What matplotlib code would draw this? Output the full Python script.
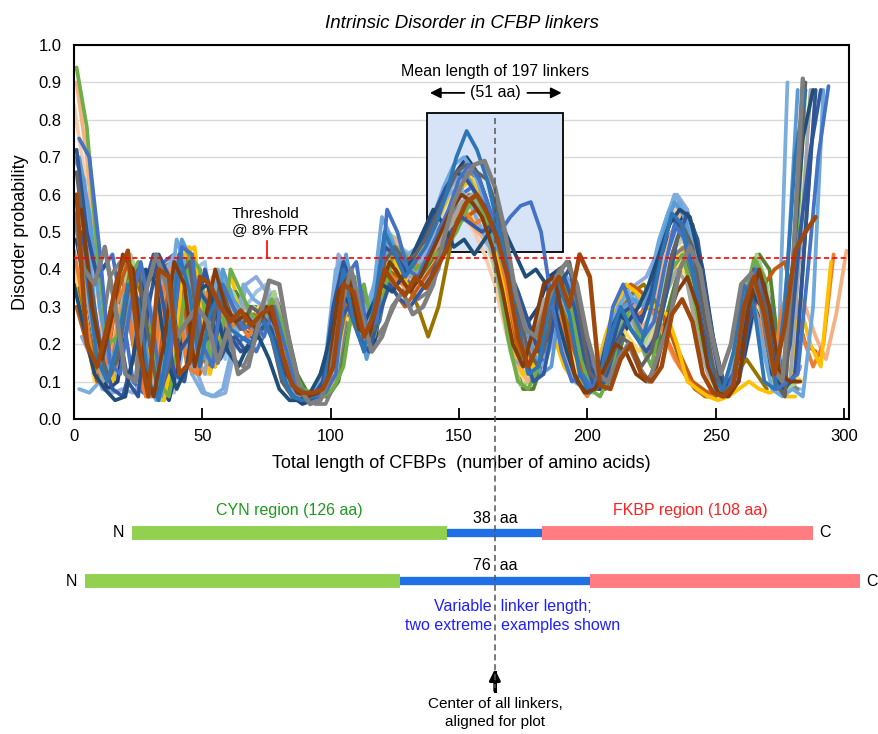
import matplotlib
matplotlib.use("Agg")
import matplotlib.pyplot as plt
import numpy as np
from matplotlib.lines import Line2D
from matplotlib.patches import Rectangle
from matplotlib.transforms import blended_transform_factory

plt.rcParams["font.family"] = ["Liberation Sans", "DejaVu Sans"]

# disorder profiles, sampled every STEP residues starting at each curve's start
STEP = 4
c01 = [0.52, 0.38, 0.16, 0.10, 0.20, 0.36, 0.32, 0.10, 0.05, 0.22,
       0.44, 0.34, 0.14, 0.28, 0.34, 0.24, 0.22, 0.20, 0.27, 0.22,
       0.12, 0.06, 0.05, 0.06, 0.08, 0.22, 0.40, 0.26, 0.18, 0.30,
       0.50, 0.44, 0.38, 0.42, 0.46, 0.52, 0.60, 0.70, 0.77, 0.72,
       0.64, 0.52, 0.40, 0.24, 0.12, 0.14, 0.30, 0.36, 0.28, 0.12,
       0.07, 0.10, 0.22, 0.30, 0.24, 0.20, 0.30, 0.44, 0.55, 0.52,
       0.40, 0.22, 0.10, 0.08, 0.18, 0.36, 0.30, 0.10, 0.08, 0.30,
       0.70, 0.88]
c02 = [0.75, 0.70, 0.45, 0.15, 0.12, 0.30, 0.42, 0.28, 0.08, 0.20,
       0.46, 0.44, 0.20, 0.14, 0.36, 0.30, 0.24, 0.26, 0.22, 0.30,
       0.20, 0.10, 0.07, 0.06, 0.07, 0.12, 0.38, 0.42, 0.24, 0.26,
       0.56, 0.50, 0.40, 0.38, 0.44, 0.50, 0.56, 0.64, 0.68, 0.64,
       0.56, 0.50, 0.54, 0.57, 0.58, 0.50, 0.32, 0.18, 0.10, 0.12,
       0.08, 0.14, 0.30, 0.36, 0.28, 0.22, 0.26, 0.40, 0.52, 0.48,
       0.36, 0.18, 0.08, 0.06, 0.14, 0.34, 0.40, 0.20, 0.08, 0.10,
       0.12, 0.40, 0.70, 0.89]
c03 = [0.94, 0.78, 0.45, 0.20, 0.22, 0.36, 0.42, 0.30, 0.10, 0.06,
       0.22, 0.44, 0.40, 0.16, 0.20, 0.40, 0.34, 0.28, 0.26, 0.32,
       0.26, 0.14, 0.08, 0.07, 0.06, 0.08, 0.14, 0.32, 0.36, 0.22,
       0.34, 0.46, 0.44, 0.40, 0.42, 0.44, 0.46, 0.50, 0.56, 0.60,
       0.52, 0.40, 0.22, 0.10, 0.08, 0.14, 0.30, 0.40, 0.32, 0.18,
       0.08, 0.06, 0.12, 0.24, 0.30, 0.20, 0.14, 0.28, 0.40, 0.44,
       0.34, 0.20, 0.10, 0.06, 0.12, 0.30, 0.43, 0.38, 0.14, 0.08,
       0.40, 0.88]
c04 = [0.90, 0.70, 0.35, 0.12, 0.18, 0.32, 0.30, 0.10, 0.06, 0.24,
       0.42, 0.40, 0.18, 0.14, 0.34, 0.30, 0.24, 0.26, 0.22, 0.28,
       0.22, 0.10, 0.06, 0.05, 0.06, 0.10, 0.26, 0.36, 0.24, 0.30,
       0.44, 0.48, 0.42, 0.40, 0.44, 0.46, 0.48, 0.52, 0.54, 0.50,
       0.48, 0.40, 0.28, 0.14, 0.10, 0.16, 0.30, 0.34, 0.26, 0.14,
       0.08, 0.10, 0.16, 0.26, 0.30, 0.24, 0.28, 0.40, 0.50, 0.56,
       0.46, 0.30, 0.14, 0.08, 0.10, 0.24, 0.36, 0.30, 0.12, 0.10,
       0.32, 0.30, 0.22, 0.16, 0.28, 0.45]
c05 = [0.55, 0.40, 0.36, 0.46, 0.30, 0.12, 0.10, 0.34, 0.44, 0.36,
       0.22, 0.26, 0.30, 0.26, 0.15, 0.24, 0.12, 0.14, 0.26, 0.37,
       0.36, 0.20, 0.08, 0.04, 0.05, 0.12, 0.30, 0.40, 0.28, 0.18,
       0.22, 0.30, 0.34, 0.28, 0.30, 0.36, 0.48, 0.58, 0.64, 0.68,
       0.69, 0.62, 0.50, 0.34, 0.24, 0.22, 0.30, 0.38, 0.42, 0.36,
       0.22, 0.12, 0.10, 0.16, 0.20, 0.14, 0.10, 0.18, 0.26, 0.40,
       0.46, 0.40, 0.24, 0.12, 0.20, 0.36, 0.39, 0.30, 0.14, 0.10,
       0.40, 0.91]
c06 = [0.48, 0.30, 0.12, 0.10, 0.26, 0.40, 0.34, 0.10, 0.05, 0.18,
       0.44, 0.46, 0.20, 0.14, 0.30, 0.32, 0.26, 0.24, 0.28, 0.30,
       0.16, 0.08, 0.06, 0.06, 0.10, 0.24, 0.40, 0.30, 0.20, 0.28,
       0.44, 0.40, 0.34, 0.40, 0.44, 0.50, 0.58, 0.62, 0.64, 0.58,
       0.48, 0.36, 0.20, 0.12, 0.14, 0.26, 0.22, 0.14, 0.10, 0.10,
       0.12, 0.22, 0.30, 0.36, 0.34, 0.30, 0.30, 0.28, 0.20, 0.10,
       0.08, 0.06, 0.05, 0.06, 0.08, 0.10, 0.08, 0.07, 0.08, 0.10,
       0.30, 0.20, 0.14, 0.42]
c07 = [0.60, 0.20, 0.14, 0.25, 0.38, 0.45, 0.20, 0.06, 0.40, 0.38,
       0.12, 0.15, 0.38, 0.36, 0.30, 0.26, 0.29, 0.25, 0.28, 0.30,
       0.18, 0.09, 0.07, 0.07, 0.08, 0.14, 0.36, 0.34, 0.22, 0.28,
       0.40, 0.36, 0.33, 0.38, 0.35, 0.40, 0.45, 0.52, 0.58, 0.60,
       0.55, 0.48, 0.38, 0.22, 0.14, 0.20, 0.34, 0.38, 0.30, 0.44,
       0.38, 0.09, 0.08, 0.16, 0.20, 0.12, 0.10, 0.14, 0.28, 0.32,
       0.26, 0.12, 0.07, 0.06, 0.09, 0.30, 0.38, 0.28, 0.12, 0.25,
       0.45, 0.50, 0.54]
c08 = [0.70, 0.55, 0.30, 0.14, 0.20, 0.34, 0.30, 0.08, 0.06, 0.30,
       0.48, 0.42, 0.16, 0.18, 0.40, 0.32, 0.28, 0.24, 0.30, 0.24,
       0.12, 0.06, 0.05, 0.05, 0.08, 0.30, 0.44, 0.30, 0.16, 0.26,
       0.50, 0.44, 0.40, 0.46, 0.48, 0.54, 0.62, 0.66, 0.64, 0.58,
       0.50, 0.44, 0.36, 0.30, 0.20, 0.12, 0.14, 0.34, 0.36, 0.20,
       0.08, 0.12, 0.24, 0.30, 0.32, 0.30, 0.38, 0.50, 0.58, 0.54,
       0.40, 0.22, 0.10, 0.08, 0.14, 0.34, 0.42, 0.28, 0.10, 0.40,
       0.88]
c09 = [0.08, 0.07, 0.10, 0.24, 0.34, 0.28, 0.10, 0.06, 0.14, 0.32,
       0.30, 0.12, 0.07, 0.06, 0.08, 0.20, 0.36, 0.32, 0.30, 0.26,
       0.14, 0.08, 0.06, 0.08, 0.16, 0.40, 0.42, 0.32, 0.30, 0.38,
       0.42, 0.46, 0.44, 0.46, 0.50, 0.56, 0.60, 0.62, 0.58, 0.52,
       0.46, 0.40, 0.30, 0.16, 0.12, 0.18, 0.30, 0.32, 0.22, 0.12,
       0.08, 0.10, 0.18, 0.28, 0.34, 0.30, 0.40, 0.52, 0.60, 0.56,
       0.42, 0.24, 0.10, 0.08, 0.14, 0.30, 0.36, 0.22, 0.08, 0.90]
c10 = [0.40, 0.25, 0.10, 0.12, 0.30, 0.38, 0.22, 0.07, 0.12, 0.38,
       0.40, 0.18, 0.12, 0.30, 0.34, 0.28, 0.30, 0.26, 0.30, 0.32,
       0.18, 0.08, 0.06, 0.07, 0.10, 0.28, 0.36, 0.28, 0.26, 0.40,
       0.48, 0.42, 0.38, 0.40, 0.44, 0.48, 0.52, 0.58, 0.60, 0.56,
       0.46, 0.30, 0.16, 0.14, 0.24, 0.32, 0.30, 0.18, 0.10, 0.08,
       0.10, 0.20, 0.28, 0.30, 0.24, 0.16, 0.22, 0.34, 0.40, 0.36,
       0.22, 0.12, 0.08, 0.10, 0.24, 0.38, 0.32, 0.14, 0.08, 0.10,
       0.46, 0.88]
c11 = [0.45, 0.30, 0.12, 0.14, 0.30, 0.36, 0.16, 0.06, 0.20, 0.40,
       0.36, 0.14, 0.12, 0.34, 0.32, 0.24, 0.26, 0.22, 0.28, 0.24,
       0.14, 0.07, 0.05, 0.06, 0.08, 0.18, 0.34, 0.30, 0.20, 0.28,
       0.42, 0.38, 0.36, 0.42, 0.40, 0.44, 0.50, 0.54, 0.56, 0.52,
       0.54, 0.50, 0.36, 0.24, 0.16, 0.22, 0.32, 0.30, 0.20, 0.10,
       0.06, 0.12, 0.24, 0.26, 0.30, 0.28, 0.30, 0.26, 0.20, 0.14,
       0.10, 0.07, 0.06, 0.08, 0.14, 0.28, 0.32, 0.24, 0.12, 0.30,
       0.36, 0.22, 0.14, 0.20, 0.44]
c12 = [0.58, 0.40, 0.20, 0.12, 0.28, 0.44, 0.36, 0.10, 0.05, 0.16,
       0.40, 0.44, 0.22, 0.16, 0.36, 0.34, 0.28, 0.30, 0.28, 0.34,
       0.22, 0.10, 0.06, 0.06, 0.07, 0.12, 0.30, 0.38, 0.26, 0.32,
       0.50, 0.48, 0.42, 0.44, 0.46, 0.50, 0.52, 0.55, 0.54, 0.50,
       0.46, 0.34, 0.18, 0.09, 0.10, 0.22, 0.34, 0.36, 0.24, 0.12,
       0.07, 0.10, 0.20, 0.28, 0.26, 0.20, 0.26, 0.36, 0.46, 0.50,
       0.40, 0.22, 0.10, 0.07, 0.12, 0.30, 0.44, 0.36, 0.12, 0.08,
       0.10]
c13 = [0.66, 0.44, 0.24, 0.10, 0.16, 0.34, 0.40, 0.22, 0.06, 0.14,
       0.38, 0.42, 0.20, 0.22, 0.36, 0.28, 0.24, 0.30, 0.28, 0.22,
       0.10, 0.06, 0.05, 0.06, 0.07, 0.14, 0.34, 0.38, 0.22, 0.24,
       0.42, 0.46, 0.42, 0.44, 0.48, 0.54, 0.60, 0.66, 0.68, 0.66,
       0.64, 0.56, 0.44, 0.30, 0.18, 0.14, 0.24, 0.40, 0.42, 0.28,
       0.12, 0.10, 0.16, 0.22, 0.20, 0.14, 0.18, 0.30, 0.44, 0.52,
       0.46, 0.30, 0.14, 0.07, 0.10, 0.28, 0.40, 0.34, 0.10, 0.06,
       0.50, 0.90]
c14 = [0.50, 0.34, 0.16, 0.08, 0.06, 0.16, 0.34, 0.44, 0.30, 0.12,
       0.10, 0.26, 0.40, 0.30, 0.20, 0.22, 0.18, 0.22, 0.26, 0.20,
       0.08, 0.05, 0.05, 0.06, 0.12, 0.26, 0.30, 0.22, 0.18, 0.28,
       0.36, 0.32, 0.30, 0.34, 0.38, 0.44, 0.50, 0.54, 0.52, 0.50,
       0.52, 0.46, 0.32, 0.18, 0.10, 0.12, 0.26, 0.38, 0.30, 0.16,
       0.08, 0.10, 0.20, 0.26, 0.22, 0.18, 0.22, 0.34, 0.48, 0.55,
       0.48, 0.30, 0.14, 0.07, 0.10, 0.26, 0.36, 0.22, 0.08, 0.20,
       0.50, 0.72, 0.88]
c15 = [0.35, 0.22, 0.10, 0.12, 0.26, 0.40, 0.34, 0.10, 0.06, 0.22,
       0.44, 0.40, 0.16, 0.14, 0.32, 0.30, 0.26, 0.28, 0.24, 0.28,
       0.18, 0.08, 0.06, 0.06, 0.08, 0.16, 0.30, 0.34, 0.26, 0.30,
       0.40, 0.38, 0.36, 0.30, 0.22, 0.30, 0.44, 0.56, 0.60, 0.58,
       0.50, 0.38, 0.24, 0.16, 0.20, 0.28, 0.34, 0.30, 0.22, 0.12,
       0.08, 0.12, 0.22, 0.30, 0.34, 0.36, 0.32, 0.28, 0.20, 0.12,
       0.08, 0.06, 0.06, 0.08, 0.12, 0.16, 0.12, 0.08]
c16 = [0.30, 0.20, 0.10, 0.16, 0.34, 0.42, 0.24, 0.08, 0.14, 0.36,
       0.42, 0.20, 0.12, 0.30, 0.36, 0.28, 0.26, 0.24, 0.30, 0.26,
       0.16, 0.08, 0.06, 0.06, 0.08, 0.20, 0.32, 0.28, 0.20, 0.26,
       0.38, 0.34, 0.30, 0.34, 0.38, 0.42, 0.48, 0.52, 0.54, 0.56,
       0.52, 0.42, 0.30, 0.20, 0.14, 0.18, 0.26, 0.30, 0.22, 0.14,
       0.10, 0.12, 0.24, 0.34, 0.36, 0.34, 0.30, 0.28, 0.22, 0.16,
       0.10, 0.08, 0.06, 0.08, 0.12, 0.22, 0.30, 0.36, 0.40, 0.42,
       0.30, 0.20, 0.18]
c17 = [0.36, 0.24, 0.12, 0.08, 0.05, 0.06, 0.20, 0.40, 0.36, 0.16,
       0.08, 0.14, 0.34, 0.36, 0.26, 0.18, 0.14, 0.20, 0.22, 0.16,
       0.08, 0.05, 0.05, 0.07, 0.12, 0.22, 0.34, 0.30, 0.24, 0.30,
       0.36, 0.34, 0.38, 0.44, 0.50, 0.56, 0.52, 0.46, 0.48, 0.44,
       0.48, 0.52, 0.50, 0.44, 0.38, 0.40, 0.36, 0.28, 0.18, 0.10,
       0.07, 0.10, 0.22, 0.28, 0.26, 0.30, 0.36, 0.44, 0.52, 0.56,
       0.54, 0.42, 0.24, 0.10, 0.08, 0.20, 0.34, 0.30, 0.12, 0.08,
       0.40, 0.75, 0.88]
c18 = [0.22, 0.16, 0.08, 0.07, 0.08, 0.07, 0.10, 0.22, 0.38, 0.44,
       0.34, 0.14, 0.07, 0.06, 0.07, 0.20, 0.36, 0.38, 0.34, 0.26,
       0.12, 0.07, 0.06, 0.08, 0.16, 0.44, 0.40, 0.26, 0.30, 0.40,
       0.46, 0.40, 0.38, 0.42, 0.48, 0.56, 0.62, 0.66, 0.62, 0.56,
       0.48, 0.42, 0.34, 0.28, 0.18, 0.14, 0.22, 0.30, 0.24, 0.14,
       0.08, 0.12, 0.26, 0.34, 0.36, 0.38, 0.44, 0.54, 0.60, 0.56,
       0.42, 0.26, 0.12, 0.08, 0.12, 0.30, 0.38, 0.26, 0.10, 0.10,
       0.14]
c19 = [0.46, 0.30, 0.12, 0.14, 0.30, 0.34, 0.16, 0.06, 0.24, 0.42,
       0.30, 0.12, 0.16, 0.38, 0.30, 0.24, 0.28, 0.22, 0.28, 0.22,
       0.10, 0.06, 0.05, 0.06, 0.10, 0.24, 0.32, 0.24, 0.26, 0.36,
       0.40, 0.38, 0.34, 0.40, 0.44, 0.48, 0.52, 0.56, 0.54, 0.50,
       0.46, 0.42, 0.30, 0.20, 0.14, 0.22, 0.34, 0.36, 0.28, 0.18,
       0.12, 0.10, 0.18, 0.26, 0.30, 0.32, 0.28, 0.22, 0.16, 0.12,
       0.08, 0.07, 0.08, 0.10, 0.12]
c20 = [0.40, 0.26, 0.10, 0.16, 0.34, 0.40, 0.18, 0.06, 0.18, 0.40,
       0.44, 0.20, 0.14, 0.36, 0.32, 0.26, 0.28, 0.24, 0.30, 0.26,
       0.16, 0.08, 0.06, 0.06, 0.08, 0.16, 0.28, 0.26, 0.22, 0.30,
       0.44, 0.40, 0.36, 0.40, 0.46, 0.52, 0.58, 0.62, 0.60, 0.54,
       0.50, 0.40, 0.26, 0.14, 0.10, 0.16, 0.30, 0.34, 0.24, 0.12,
       0.08, 0.10, 0.20, 0.26, 0.22, 0.18, 0.22, 0.30, 0.38, 0.42,
       0.36, 0.22, 0.10, 0.06, 0.08, 0.22, 0.34, 0.28, 0.10, 0.08,
       0.12, 0.10]
c21 = [0.72, 0.50, 0.38, 0.42, 0.26, 0.10, 0.06, 0.30, 0.44, 0.38,
       0.18, 0.22, 0.34, 0.30, 0.16, 0.22, 0.18, 0.20, 0.28, 0.24,
       0.12, 0.06, 0.05, 0.06, 0.10, 0.30, 0.42, 0.34, 0.22, 0.28,
       0.46, 0.44, 0.40, 0.44, 0.50, 0.56, 0.62, 0.66, 0.64, 0.60,
       0.56, 0.48, 0.40, 0.34, 0.26, 0.18, 0.22, 0.36, 0.40, 0.30,
       0.14, 0.10, 0.18, 0.28, 0.30, 0.26, 0.34, 0.46, 0.54, 0.50,
       0.40, 0.24, 0.12, 0.08, 0.12, 0.26, 0.40, 0.36, 0.12, 0.08,
       0.12, 0.50, 0.88]
c22 = [0.50, 0.36, 0.18, 0.10, 0.20, 0.36, 0.36, 0.14, 0.06, 0.20,
       0.40, 0.38, 0.18, 0.18, 0.34, 0.30, 0.30, 0.26, 0.32, 0.28,
       0.16, 0.08, 0.06, 0.06, 0.08, 0.18, 0.36, 0.30, 0.22, 0.30,
       0.46, 0.42, 0.38, 0.42, 0.44, 0.48, 0.52, 0.56, 0.56, 0.52,
       0.48, 0.36, 0.20, 0.12, 0.14, 0.28, 0.36, 0.30, 0.18, 0.10,
       0.08, 0.12, 0.22, 0.28, 0.24, 0.18, 0.24, 0.36, 0.46, 0.48,
       0.38, 0.20, 0.10, 0.07, 0.12, 0.30, 0.42, 0.34, 0.12, 0.08]
c23 = [0.56, 0.30, 0.16, 0.28, 0.44, 0.40, 0.14, 0.06, 0.20, 0.42,
       0.36, 0.14, 0.26, 0.40, 0.30, 0.26, 0.28, 0.24, 0.30, 0.24,
       0.12, 0.07, 0.06, 0.07, 0.10, 0.34, 0.38, 0.24, 0.22, 0.34,
       0.42, 0.38, 0.34, 0.38, 0.44, 0.50, 0.56, 0.60, 0.58, 0.54,
       0.46, 0.34, 0.20, 0.14, 0.24, 0.36, 0.38, 0.26, 0.12, 0.07,
       0.08, 0.14, 0.20, 0.18, 0.12, 0.10, 0.14, 0.26, 0.34, 0.38,
       0.30, 0.14, 0.07, 0.06, 0.10, 0.30, 0.40, 0.30, 0.12, 0.10,
       0.10]
c24 = [0.70, 0.64, 0.30, 0.12, 0.18, 0.32, 0.34, 0.12, 0.05, 0.26,
       0.48, 0.40, 0.16, 0.20, 0.40, 0.34, 0.26, 0.28, 0.24, 0.30,
       0.20, 0.10, 0.06, 0.05, 0.06, 0.12, 0.42, 0.40, 0.22, 0.30,
       0.54, 0.48, 0.40, 0.44, 0.48, 0.54, 0.62, 0.68, 0.70, 0.66,
       0.58, 0.48, 0.40, 0.36, 0.28, 0.20, 0.16, 0.30, 0.38, 0.30,
       0.14, 0.10, 0.20, 0.30, 0.34, 0.30, 0.36, 0.48, 0.56, 0.58,
       0.50, 0.34, 0.16, 0.08, 0.10, 0.26, 0.34, 0.20, 0.08, 0.06,
       0.08, 0.06, 0.30, 0.88]
c25 = [0.42, 0.28, 0.12, 0.10, 0.24, 0.40, 0.38, 0.12, 0.05, 0.12,
       0.40, 0.44, 0.20, 0.14, 0.34, 0.34, 0.30, 0.30, 0.26, 0.32,
       0.24, 0.12, 0.07, 0.06, 0.06, 0.10, 0.24, 0.36, 0.30, 0.28,
       0.40, 0.44, 0.40, 0.38, 0.42, 0.46, 0.50, 0.54, 0.58, 0.56,
       0.44, 0.30, 0.16, 0.08, 0.08, 0.16, 0.30, 0.34, 0.26, 0.14,
       0.08, 0.08, 0.14, 0.24, 0.28, 0.22, 0.18, 0.28, 0.38, 0.42,
       0.34, 0.20, 0.10, 0.07, 0.12, 0.30, 0.44, 0.40, 0.16, 0.08,
       0.30, 0.70]
c26 = [0.50, 0.40, 0.22, 0.10, 0.14, 0.28, 0.36, 0.24, 0.08, 0.10,
       0.30, 0.42, 0.30, 0.12, 0.22, 0.36, 0.30, 0.26, 0.28, 0.30,
       0.20, 0.10, 0.06, 0.06, 0.08, 0.14, 0.32, 0.36, 0.26, 0.24,
       0.38, 0.44, 0.42, 0.40, 0.44, 0.48, 0.54, 0.58, 0.56, 0.52,
       0.48, 0.40, 0.26, 0.14, 0.10, 0.14, 0.28, 0.34, 0.30, 0.16,
       0.08, 0.08, 0.16, 0.26, 0.28, 0.24, 0.26, 0.36, 0.46, 0.50,
       0.44, 0.28, 0.12, 0.08, 0.10, 0.24, 0.40, 0.34, 0.12, 0.08]
c27 = [0.62, 0.46, 0.40, 0.44, 0.28, 0.10, 0.07, 0.22, 0.42, 0.44,
       0.26, 0.14, 0.30, 0.38, 0.24, 0.20, 0.22, 0.18, 0.24, 0.28,
       0.14, 0.07, 0.05, 0.05, 0.08, 0.24, 0.40, 0.36, 0.24, 0.26,
       0.40, 0.40, 0.36, 0.40, 0.46, 0.52, 0.56, 0.60, 0.62, 0.60,
       0.52, 0.44, 0.34, 0.22, 0.14, 0.16, 0.28, 0.38, 0.36, 0.22,
       0.10, 0.08, 0.16, 0.26, 0.32, 0.30, 0.34, 0.44, 0.52, 0.50,
       0.38, 0.22, 0.10, 0.07, 0.12, 0.30, 0.42, 0.32, 0.10, 0.08,
       0.14]
c28 = [0.52, 0.36, 0.14, 0.10, 0.22, 0.38, 0.40, 0.16, 0.05, 0.14,
       0.38, 0.46, 0.28, 0.12, 0.26, 0.38, 0.30, 0.26, 0.30, 0.28,
       0.16, 0.08, 0.06, 0.06, 0.08, 0.14, 0.32, 0.36, 0.22, 0.28,
       0.46, 0.42, 0.36, 0.40, 0.46, 0.52, 0.58, 0.64, 0.66, 0.60,
       0.50, 0.38, 0.24, 0.14, 0.12, 0.20, 0.34, 0.38, 0.28, 0.12,
       0.07, 0.10, 0.20, 0.26, 0.24, 0.20, 0.22, 0.30, 0.42, 0.46,
       0.38, 0.20, 0.08, 0.06, 0.10, 0.26, 0.38, 0.30, 0.10, 0.06,
       0.06]
c29 = [0.84, 0.66, 0.30, 0.12, 0.16, 0.32, 0.38, 0.20, 0.06, 0.14,
       0.40, 0.46, 0.22, 0.16, 0.38, 0.32, 0.26, 0.28, 0.26, 0.30,
       0.20, 0.08, 0.05, 0.05, 0.06, 0.10, 0.28, 0.36, 0.26, 0.30,
       0.46, 0.46, 0.40, 0.42, 0.46, 0.50, 0.54, 0.56, 0.54, 0.50,
       0.44, 0.36, 0.24, 0.14, 0.12, 0.18, 0.32, 0.36, 0.28, 0.16,
       0.10, 0.10, 0.18, 0.28, 0.32, 0.28, 0.30, 0.42, 0.52, 0.58,
       0.50, 0.32, 0.14, 0.07, 0.10, 0.26, 0.40, 0.32, 0.12, 0.08]
c30 = [0.38, 0.30, 0.20, 0.38, 0.42, 0.24, 0.08, 0.16, 0.40, 0.42,
       0.22, 0.12, 0.22, 0.32, 0.26, 0.16, 0.14, 0.20, 0.30, 0.34,
       0.22, 0.10, 0.06, 0.04, 0.04, 0.10, 0.26, 0.38, 0.30, 0.22,
       0.26, 0.32, 0.36, 0.32, 0.34, 0.40, 0.50, 0.60, 0.66, 0.64,
       0.56, 0.46, 0.34, 0.22, 0.16, 0.22, 0.36, 0.40, 0.32, 0.20,
       0.12, 0.12, 0.20, 0.28, 0.24, 0.18, 0.22, 0.34, 0.44, 0.46,
       0.36, 0.20, 0.10, 0.08, 0.12, 0.24, 0.34, 0.30, 0.12, 0.10,
       0.08]
c31 = [0.48, 0.32, 0.16, 0.08, 0.10, 0.28, 0.40, 0.30, 0.10, 0.05,
       0.16, 0.38, 0.40, 0.20, 0.18, 0.30, 0.26, 0.22, 0.28, 0.24,
       0.12, 0.06, 0.04, 0.05, 0.08, 0.20, 0.38, 0.34, 0.18, 0.20,
       0.36, 0.40, 0.38, 0.42, 0.48, 0.54, 0.60, 0.66, 0.70, 0.66,
       0.58, 0.46, 0.36, 0.28, 0.26, 0.30, 0.38, 0.40, 0.30, 0.16,
       0.08, 0.08, 0.14, 0.22, 0.26, 0.28, 0.34, 0.44, 0.50, 0.54,
       0.52, 0.40, 0.22, 0.10, 0.08, 0.16, 0.30, 0.26, 0.10, 0.08,
       0.10]
c32 = [0.30, 0.20, 0.10, 0.08, 0.18, 0.34, 0.40, 0.26, 0.08, 0.07,
       0.20, 0.40, 0.42, 0.22, 0.16, 0.30, 0.30, 0.34, 0.36, 0.30,
       0.18, 0.09, 0.06, 0.06, 0.07, 0.12, 0.26, 0.30, 0.24, 0.30,
       0.42, 0.46, 0.44, 0.42, 0.46, 0.50, 0.54, 0.56, 0.54, 0.50,
       0.46, 0.36, 0.22, 0.12, 0.10, 0.16, 0.28, 0.32, 0.24, 0.14,
       0.08, 0.09, 0.16, 0.24, 0.26, 0.24, 0.28, 0.38, 0.48, 0.52,
       0.44, 0.26, 0.12, 0.08, 0.10, 0.22, 0.34, 0.28, 0.10, 0.08,
       0.08]

profiles = [c32, c26, c29, c28, c25, c27, c30, c31,
            c22, c20, c12, c19, c04, c18, c09, c15, c16, c11, c06, c10,
            c24, c08, c03, c14, c21, c17, c13, c02, c01, c23, c05, c07]
starts = [3, 0, 0, 1, 3, 3, 2, 1,
          2, 0, 2, 2, 1, 3, 2, 2, 1, 0, 3, 3,
          0, 2, 1, 3, 1, 0, 1, 2, 1, 3, 0, 1]
colors = ["#9DC3E6", "#BDD7EE", "#F8CBAD", "#FFC000", "#548235", "#4472C4",
          "#808080", "#264478",
          "#C9C9C9", "#FFD966", "#A9D18E", "#F1975A", "#F4B183", "#8FAADC",
          "#7AAEDE", "#997300", "#C55A11", "#ED7D31", "#FFC000", "#A5A5A5",
          "#6FA8DC", "#5B9BD5", "#70AD47", "#335AA1", "#2F5597", "#1F4E79",
          "#636363", "#4472C4", "#2E75B6", "#843C0C", "#7F7F7F", "#9E480E"]
widths = [2.7] * 30 + [3.2, 3.2]

threshold = 0.43
linker_center = 164
box_x = (137.6, 190.6)
box_y = (0.447, 0.818)

# schematic of two example constructs (drawn slightly under axis scale)
cyn_len = 126
fkbp_len = 108
linker_lens = [38, 76]
SCH = 0.975
row_y = [0.274, 0.208]
label_y = [0.294, 0.230]

fig = plt.figure(figsize=(8.79, 7.34), dpi=100)
ax = fig.add_axes([0.0842, 0.4292, 0.8817, 0.5095])

ax.add_patch(Rectangle((box_x[0], box_y[0]), box_x[1] - box_x[0], box_y[1] - box_y[0],
                       facecolor="#D7E4F7", edgecolor="black", lw=1.3, zorder=1.5))

for vals, x0, col, lw in zip(profiles, starts, colors, widths):
    x = x0 + STEP * np.arange(len(vals))
    ax.plot(x, vals, color=col, lw=lw, solid_joinstyle="round",
            solid_capstyle="round", zorder=2)

ax.axhline(threshold, color="#FF0000", lw=1.2, ls=(0, (3, 2)), zorder=4)
ax.plot([75.2, 75.2], [threshold, 0.476], color="#FF0000", lw=1.2, zorder=4)
ax.text(61.6, 0.527, "Threshold\n@ 8% FPR", fontsize=11, ha="left", va="center",
        linespacing=1.25, zorder=5)

ax.text(linker_center, 0.928, "Mean length of 197 linkers", fontsize=11.5,
        ha="center", va="center")
ax.text(linker_center, 0.872, "(51 aa)", fontsize=11.5, ha="center", va="center")
arrow_kw = dict(arrowstyle="-|>", color="black", lw=1.3, mutation_scale=16)
ax.annotate("", xy=(box_x[0], 0.872), xytext=(153.2, 0.872), arrowprops=arrow_kw)
ax.annotate("", xy=(box_x[1] + 0.5, 0.872), xytext=(175.6, 0.872), arrowprops=arrow_kw)

ax.set_xlim(0, 302)
ax.set_ylim(0, 1)
ax.set_xticks(range(0, 301, 50))
ax.set_yticks(np.arange(0, 1.01, 0.1))
ax.set_yticklabels([f"{v:.1f}" for v in np.arange(0, 1.01, 0.1)])
ax.tick_params(axis="x", direction="in", length=8, width=1.3, labelsize=12, pad=7)
ax.tick_params(axis="y", length=0, labelsize=12, pad=9)
ax.grid(axis="y", color="#D9D9D9", lw=1.0, zorder=0)
ax.set_axisbelow(True)
for sp in ax.spines.values():
    sp.set_linewidth(1.5)
ax.set_xlabel("Total length of CFBPs  (number of amino acids)", fontsize=13, labelpad=8)
ax.set_ylabel("Disorder probability", fontsize=13, labelpad=7)
ax.set_title("Intrinsic Disorder in CFBP linkers", fontsize=13.5, style="italic", pad=12)

# centre line running down through the schematic
tr = blended_transform_factory(ax.transData, fig.transFigure)
fig.add_artist(Line2D([linker_center, linker_center], [0.839, 0.062], transform=tr,
                      color="#555555", lw=1.1, ls=(0, (4, 2.5)), zorder=6))

for ln, yr, yl in zip(linker_lens, row_y, label_y):
    a = linker_center - SCH * ln / 2
    b = linker_center + SCH * ln / 2
    g0 = a - SCH * cyn_len
    p1 = b + SCH * fkbp_len
    fig.add_artist(Line2D([g0, a], [yr, yr], transform=tr, color="#92D050",
                          lw=10, solid_capstyle="butt"))
    fig.add_artist(Line2D([a, b], [yr, yr], transform=tr, color="#1F6FE5",
                          lw=6, solid_capstyle="butt"))
    fig.add_artist(Line2D([b, p1], [yr, yr], transform=tr, color="#FF7C80",
                          lw=10, solid_capstyle="butt"))
    fig.text(g0 - 3, yr, "N", transform=tr, fontsize=11.5, ha="right", va="center")
    fig.text(p1 + 2.5, yr, "C", transform=tr, fontsize=11.5, ha="left", va="center")
    fig.text(linker_center, yl, f"{ln}  aa", transform=tr, fontsize=11.5,
             ha="center", va="center")

a0 = linker_center - SCH * linker_lens[0] / 2
b0 = linker_center + SCH * linker_lens[0] / 2
fig.text(a0 - SCH * cyn_len / 2, 0.305, f"CYN region ({cyn_len} aa)", transform=tr,
         fontsize=11.5, color="#1E9A1E", ha="center", va="center")
fig.text(b0 + SCH * fkbp_len / 2 + 5, 0.305, f"FKBP region ({fkbp_len} aa)", transform=tr,
         fontsize=11.5, color="#FF2020", ha="center", va="center")
fig.text(171, 0.161, "Variable  linker length;\ntwo extreme  examples shown", transform=tr,
         fontsize=11.5, color="#2020FF", ha="center", va="center", linespacing=1.3)

fig.add_artist(Line2D([linker_center, linker_center], [0.058, 0.085], transform=tr,
                      color="black", lw=2.2))
ax.annotate("", xy=(linker_center, 0.092), xycoords=tr,
            xytext=(linker_center, 0.055), textcoords=tr,
            arrowprops=dict(arrowstyle="-|>", color="black", lw=2.2, mutation_scale=16))
fig.text(linker_center, 0.050, "Center of all linkers,\naligned for plot", transform=tr,
         fontsize=11, ha="center", va="top", linespacing=1.35)

fig.savefig("out.png", dpi=100)
